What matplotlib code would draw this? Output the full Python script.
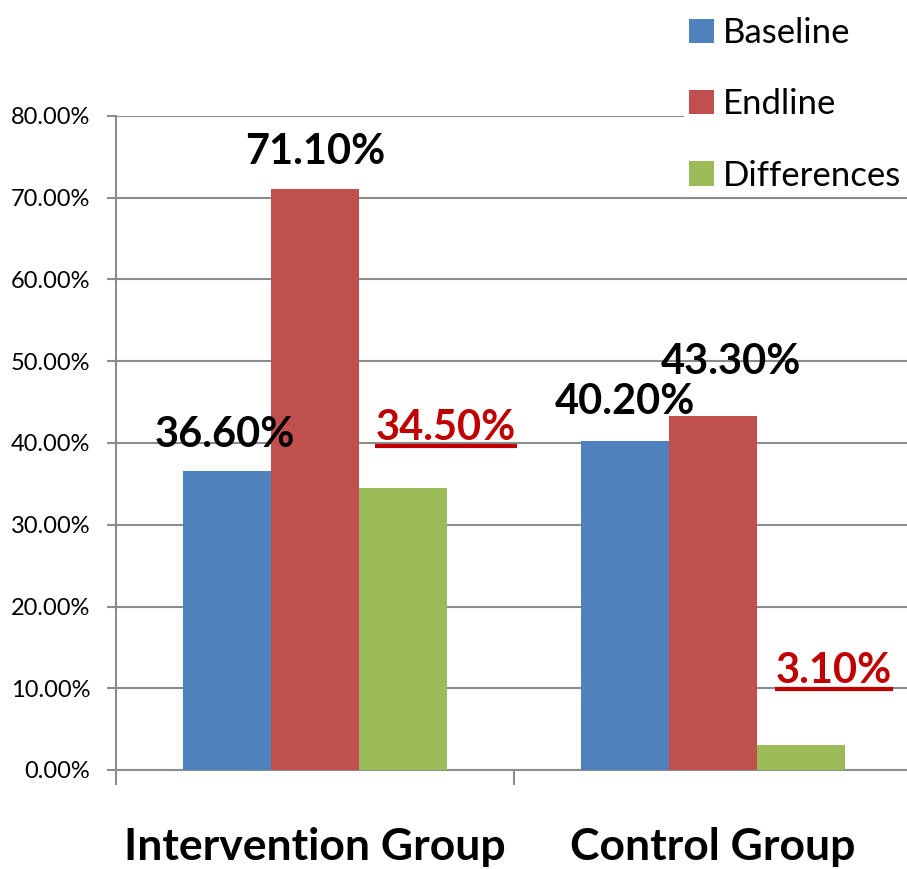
import matplotlib
matplotlib.use("Agg")
import matplotlib.pyplot as plt
from matplotlib.lines import Line2D
from matplotlib.transforms import IdentityTransform
import numpy as np

# Data
groups = ["Intervention Group", "Control Group"]
series_names = ["Baseline", "Endline", "Differences"]
baseline = [36.6, 40.2]
endline = [71.1, 43.3]
differences = [34.5, 3.1]
y_ticks = [0, 10, 20, 30, 40, 50, 60, 70, 80]

colors = ["#4F81BD", "#C0504D", "#9BBB59"]
FONT = "Lato"

W, H = 907, 869
fig = plt.figure(figsize=(W / 100, H / 100), dpi=100)
ax = fig.add_axes([116 / W, (H - 770) / H, 1 - 116 / W, (770 - 116) / H])

x = np.arange(len(groups))
bw = 0.221
values = [baseline, endline, differences]
containers = []
for i, (name, vals) in enumerate(zip(series_names, values)):
    c = ax.bar(x + (i - 1) * bw, vals, bw, color=colors[i], label=name, zorder=3)
    containers.append(c)

ax.set_xlim(-0.5, 1.487)
ax.set_ylim(0, 80)
ax.set_yticks(y_ticks)
ax.set_yticklabels([f"{v:.2f}%" for v in y_ticks], fontfamily=FONT, fontsize=17)
ax.yaxis.grid(True, color="#8C8C8C", linewidth=1.5, zorder=0)
ax.set_axisbelow(True)

for s in ["top", "right"]:
    ax.spines[s].set_visible(False)
for s in ["left", "bottom"]:
    ax.spines[s].set_color("#8C8C8C")
    ax.spines[s].set_linewidth(1.5)

ax.tick_params(axis="y", direction="out", length=6.5, width=1.5, color="#8C8C8C", pad=12)
ax.set_xticks(x)
ax.set_xticklabels(groups, fontfamily=FONT, fontsize=32, fontweight="bold")
ax.tick_params(axis="x", which="major", length=0, pad=41)
ax.set_xticks([-0.5, 0.5], minor=True)
ax.tick_params(axis="x", which="minor", direction="out", length=11, width=1.5, color="#8C8C8C")

# Value labels: (series index, group index, dx px, dy px above bar top, color, underline)
label_specs = [
    (0, 0, -2, 24, "black", False),
    (1, 0, 0, 25, "black", False),
    (2, 0, 43, 48, "#C00000", True),
    (0, 1, 0, 27, "black", False),
    (1, 1, 18, 42, "black", False),
    (2, 1, 33, 62, "#C00000", True),
]
texts = []
for si, gi, dx, dy, col, ul in label_specs:
    val = values[si][gi]
    xc = x[gi] + (si - 1) * bw
    t = ax.annotate(f"{val:.2f}%", xy=(xc, val), xytext=(dx, dy),
                    textcoords="offset pixels", ha="center", va="baseline",
                    fontfamily=FONT, fontsize=30, fontweight="bold", color=col,
                    zorder=5, annotation_clip=False)
    texts.append((t, col, ul))

leg = fig.legend(handles=containers, labels=series_names, loc="upper left",
                 bbox_to_anchor=(684 / W, 1 - 12 / H), frameon=True, facecolor="white",
                 edgecolor="none", framealpha=1.0, fancybox=False,
                 prop={"family": FONT, "size": 25}, handlelength=0.7,
                 handleheight=0.7, handletextpad=0.28, labelspacing=1.13,
                 borderpad=0.15, borderaxespad=0.0)

# Underline the difference labels
fig.canvas.draw()
renderer = fig.canvas.get_renderer()
for t, col, ul in texts:
    if not ul:
        continue
    bb = t.get_window_extent(renderer)
    y = bb.y0 + 1
    fig.add_artist(Line2D([bb.x0 - 1, bb.x1 + 1], [y, y], transform=IdentityTransform(),
                          color=col, linewidth=3, solid_capstyle="butt", zorder=6))

fig.savefig("out.png", dpi=100)
